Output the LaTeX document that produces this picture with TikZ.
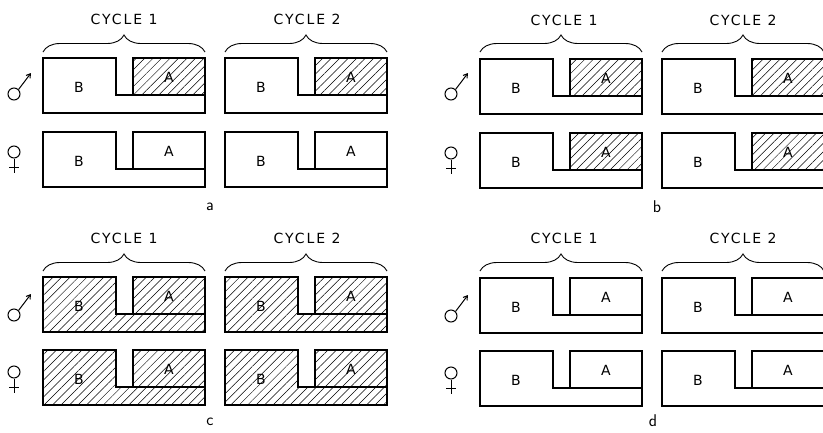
\documentclass[tikz,border=0pt]{standalone}
\usepackage{fontspec}
\newfontfamily\lettering[LetterSpace=14]{DejaVu Sans}
\usetikzlibrary{patterns.meta, decorations.pathreplacing, arrows.meta}

\tikzset{
  hatch/.style={pattern={Lines[angle=45, distance=6pt, line width=0.5pt]}},
  plain/.style={},
  outline/.style={line width=1.5pt, line join=miter},
  cyclelabel/.style={font=\lettering\fontsize{14}{14}\selectfont},
  cellletter/.style={font=\lettering\fontsize{14}{14}\selectfont},
  panelletter/.style={font=\sffamily\fontsize{17}{17}\selectfont},
  curly/.style={decorate, decoration={brace, amplitude=17pt, aspect=0.5}, line width=0.9pt},
  sexsign/.style={line width=1pt},
}

% one gonad: top-left corner (x,y), fill of B, fill of A
\newcommand{\gonad}[4]{%
  \begin{scope}[shift={(#1,#2)}]
    \path[#3] (0,0) -- (73,0) -- (73,37) -- (162,37) -- (162,55) -- (0,55) -- cycle;
    \path[#4] (90,0) rectangle (162,37);
    \draw[outline] (0,0) -- (73,0) -- (73,37) -- (90,37) -- (90,0) -- (162,0)
      -- (162,55) -- (0,55) -- cycle;
    \draw[outline] (90,37) -- (162,37);
    \node[cellletter] (B-#1-#2) at (36,29) {B};
    \node[cellletter] (A-#1-#2) at (126,19) {A};
  \end{scope}}

\begin{document}
\begin{tikzpicture}[x=1pt, y=-1pt]
  \path[use as bounding box] (0,0) rectangle (823,432);

  % panel a: male A hatched only
  \begin{scope}[shift={(43,0)}]
    \coordinate (c1l) at (0,52);  \coordinate (c1r) at (162,52);
    \coordinate (c2l) at (182,52); \coordinate (c2r) at (344,52);
    \draw[curly] (c1l) -- (c1r);
    \draw[curly] (c2l) -- (c2r);
    \node[cyclelabel] (cyc1-a) at (81,19) {CYCLE 1};
    \node[cyclelabel] (cyc2-a) at (264,19) {CYCLE 2};
    \node[circle, draw, sexsign, minimum size=12pt, inner sep=0pt] (male-a) at (-29,94) {};
    \coordinate (maletip-a) at (-12,73);
    \draw[sexsign, -{Straight Barb[length=4pt, width=5pt]}] (male-a.north east) -- (maletip-a);
    \node[circle, draw, sexsign, minimum size=12pt, inner sep=0pt] (female-a) at (-29,152) {};
    \coordinate (femfoot-a) at (-29,173);
    \draw[sexsign] (female-a.south) -- (femfoot-a);
    \draw[sexsign] (-34,167) -- (-24,167);
    \foreach \dx in {0,182} {
      \gonad{\dx}{58}{plain}{hatch}
      \gonad{\dx}{132}{plain}{plain}
    }
  \end{scope}
  \node[panelletter] (lab-a) at (210,207) {a};

  % panel b: male and female A hatched
  \begin{scope}[shift={(480,0)}]
    \coordinate (c1l) at (0,52);  \coordinate (c1r) at (162,52);
    \coordinate (c2l) at (182,52); \coordinate (c2r) at (344,52);
    \draw[curly] (c1l) -- (c1r);
    \draw[curly] (c2l) -- (c2r);
    \node[cyclelabel] (cyc1-b) at (84,20) {CYCLE 1};
    \node[cyclelabel] (cyc2-b) at (263,20) {CYCLE 2};
    \node[circle, draw, sexsign, minimum size=12pt, inner sep=0pt] (male-b) at (-29,94) {};
    \coordinate (maletip-b) at (-12,73);
    \draw[sexsign, -{Straight Barb[length=4pt, width=5pt]}] (male-b.north east) -- (maletip-b);
    \node[circle, draw, sexsign, minimum size=12pt, inner sep=0pt] (female-b) at (-29,153) {};
    \coordinate (femfoot-b) at (-29,174);
    \draw[sexsign] (female-b.south) -- (femfoot-b);
    \draw[sexsign] (-34,168) -- (-24,168);
    \foreach \dx in {0,182} {
      \gonad{\dx}{59}{plain}{hatch}
      \gonad{\dx}{133}{plain}{hatch}
    }
  \end{scope}
  \node[panelletter] (lab-b) at (657,207) {b};

  % panel c: everything hatched
  \begin{scope}[shift={(43,219)}]
    \coordinate (c1l) at (0,52);  \coordinate (c1r) at (162,52);
    \coordinate (c2l) at (182,52); \coordinate (c2r) at (344,52);
    \draw[curly] (c1l) -- (c1r);
    \draw[curly] (c2l) -- (c2r);
    \node[cyclelabel] (cyc1-c) at (81,19) {CYCLE 1};
    \node[cyclelabel] (cyc2-c) at (264,19) {CYCLE 2};
    \node[circle, draw, sexsign, minimum size=12pt, inner sep=0pt] (male-c) at (-29,96) {};
    \coordinate (maletip-c) at (-12,75);
    \draw[sexsign, -{Straight Barb[length=4pt, width=5pt]}] (male-c.north east) -- (maletip-c);
    \node[circle, draw, sexsign, minimum size=12pt, inner sep=0pt] (female-c) at (-29,153) {};
    \coordinate (femfoot-c) at (-29,174);
    \draw[sexsign] (female-c.south) -- (femfoot-c);
    \draw[sexsign] (-34,168) -- (-24,168);
    \foreach \dx in {0,182} {
      \gonad{\dx}{58}{hatch}{hatch}
      \gonad{\dx}{131}{hatch}{hatch}
    }
  \end{scope}
  \node[panelletter] (lab-c) at (210,422) {c};

  % panel d: nothing hatched
  \begin{scope}[shift={(480,219)}]
    \coordinate (c1l) at (0,52);  \coordinate (c1r) at (162,52);
    \coordinate (c2l) at (182,52); \coordinate (c2r) at (344,52);
    \draw[curly] (c1l) -- (c1r);
    \draw[curly] (c2l) -- (c2r);
    \node[cyclelabel] (cyc1-d) at (84,19) {CYCLE 1};
    \node[cyclelabel] (cyc2-d) at (263,19) {CYCLE 2};
    \node[circle, draw, sexsign, minimum size=12pt, inner sep=0pt] (male-d) at (-29,97) {};
    \coordinate (maletip-d) at (-12,76);
    \draw[sexsign, -{Straight Barb[length=4pt, width=5pt]}] (male-d.north east) -- (maletip-d);
    \node[circle, draw, sexsign, minimum size=12pt, inner sep=0pt] (female-d) at (-29,154) {};
    \coordinate (femfoot-d) at (-29,175);
    \draw[sexsign] (female-d.south) -- (femfoot-d);
    \draw[sexsign] (-34,169) -- (-24,169);
    \foreach \dx in {0,182} {
      \gonad{\dx}{59}{plain}{plain}
      \gonad{\dx}{132}{plain}{plain}
    }
  \end{scope}
  \node[panelletter] (lab-d) at (653,421) {d};
\end{tikzpicture}
\end{document}
